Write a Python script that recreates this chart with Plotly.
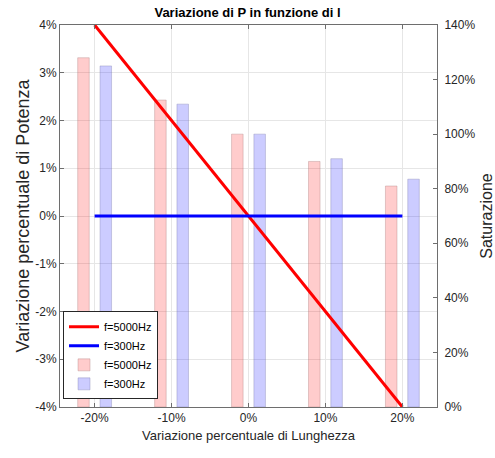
import plotly.graph_objects as go

# Data
x_pct = [-20, -10, 0, 10, 20]                 # Variazione percentuale di Lunghezza (%)
p_5000 = [4, 2, 0, -2, -4]                    # Variazione percentuale di Potenza, f=5000Hz (%)
p_300 = [0, 0, 0, 0, 0]                       # Variazione percentuale di Potenza, f=300Hz (%)
sat_5000 = [128, 112.5, 100, 90, 81]          # Saturazione f=5000Hz (%)
sat_300 = [125, 111, 100, 91, 83.5]           # Saturazione f=300Hz (%)
x_ticks = [-20, -10, 0, 10, 20]
y_left_ticks = [-4, -3, -2, -1, 0, 1, 2, 3, 4]
y_right_ticks = [0, 20, 40, 60, 80, 100, 120, 140]

FONT = "Liberation Sans, Arial, sans-serif"

fig = go.Figure()

fig.add_trace(go.Bar(
    x=x_pct, y=sat_5000, name="f=5000Hz", yaxis="y",
    width=1.5, offset=-2.2,
    marker=dict(color="rgba(255,0,0,0.2)", line=dict(color="rgba(170,120,120,0.35)", width=1)),
    legendrank=3,
))
fig.add_trace(go.Bar(
    x=x_pct, y=sat_300, name="f=300Hz", yaxis="y",
    width=1.5, offset=0.7,
    marker=dict(color="rgba(0,0,255,0.2)", line=dict(color="rgba(120,120,170,0.35)", width=1)),
    legendrank=4,
))
fig.add_trace(go.Scatter(
    x=x_pct, y=p_5000, name="f=5000Hz", mode="lines", yaxis="y2",
    line=dict(color="#ff0000", width=3), legendrank=1,
))
fig.add_trace(go.Scatter(
    x=x_pct, y=p_300, name="f=300Hz", mode="lines", yaxis="y2",
    line=dict(color="#0000ff", width=3), legendrank=2,
))

axis_common = dict(
    showline=True, linecolor="#6e6e6e", linewidth=1,
    tickfont=dict(family=FONT, size=12, color="#262626"),
    zeroline=False, automargin=False,
)

fig.update_layout(
    width=495, height=458,
    margin=dict(l=60, r=58, t=25, b=51),
    paper_bgcolor="white", plot_bgcolor="white",
    barmode="overlay",
    showlegend=True,
    title=dict(text="<b>Variazione di P in funzione di l</b>", x=0.5, xanchor="center",
               y=0.972, yanchor="middle",
               font=dict(family=FONT, size=13, color="#000000")),
    xaxis=dict(
        range=[-24.5, 24.5], tickvals=x_ticks, ticktext=[f"{v}%" for v in x_ticks],
        showgrid=True, gridcolor="#e6e6e6", gridwidth=1,
        ticks="inside", ticklen=4, tickcolor="#6e6e6e", mirror="ticks",
        title=dict(text="Variazione percentuale di Lunghezza",
                   font=dict(family=FONT, size=13, color="#262626"), standoff=6),
        **axis_common,
    ),
    yaxis=dict(
        range=[0, 140], tickvals=y_right_ticks, ticktext=[f"{v}%" for v in y_right_ticks],
        side="right", showgrid=False,
        ticks="inside", ticklen=4, tickcolor="#6e6e6e", ticklabelstandoff=4,
        title=dict(text="Saturazione", font=dict(family=FONT, size=16, color="#262626"), standoff=6),
        **axis_common,
    ),
    yaxis2=dict(
        range=[-4, 4], tickvals=y_left_ticks, ticktext=[f"{v}%" for v in y_left_ticks],
        side="left", overlaying="y", showgrid=True, gridcolor="#e6e6e6", gridwidth=1,
        ticks="inside", ticklen=4, tickcolor="#6e6e6e",
        title=dict(text="Variazione percentuale di Potenza",
                   font=dict(family=FONT, size=18, color="#262626"), standoff=0),
        **axis_common,
    ),
    legend=dict(
        x=0.008, y=0.02, xanchor="left", yanchor="bottom",
        bgcolor="white", bordercolor="#262626", borderwidth=1,
        font=dict(family=FONT, size=11, color="#000000"),
        tracegroupgap=0, itemwidth=30,
    ),
)

fig.write_html("out.html")
